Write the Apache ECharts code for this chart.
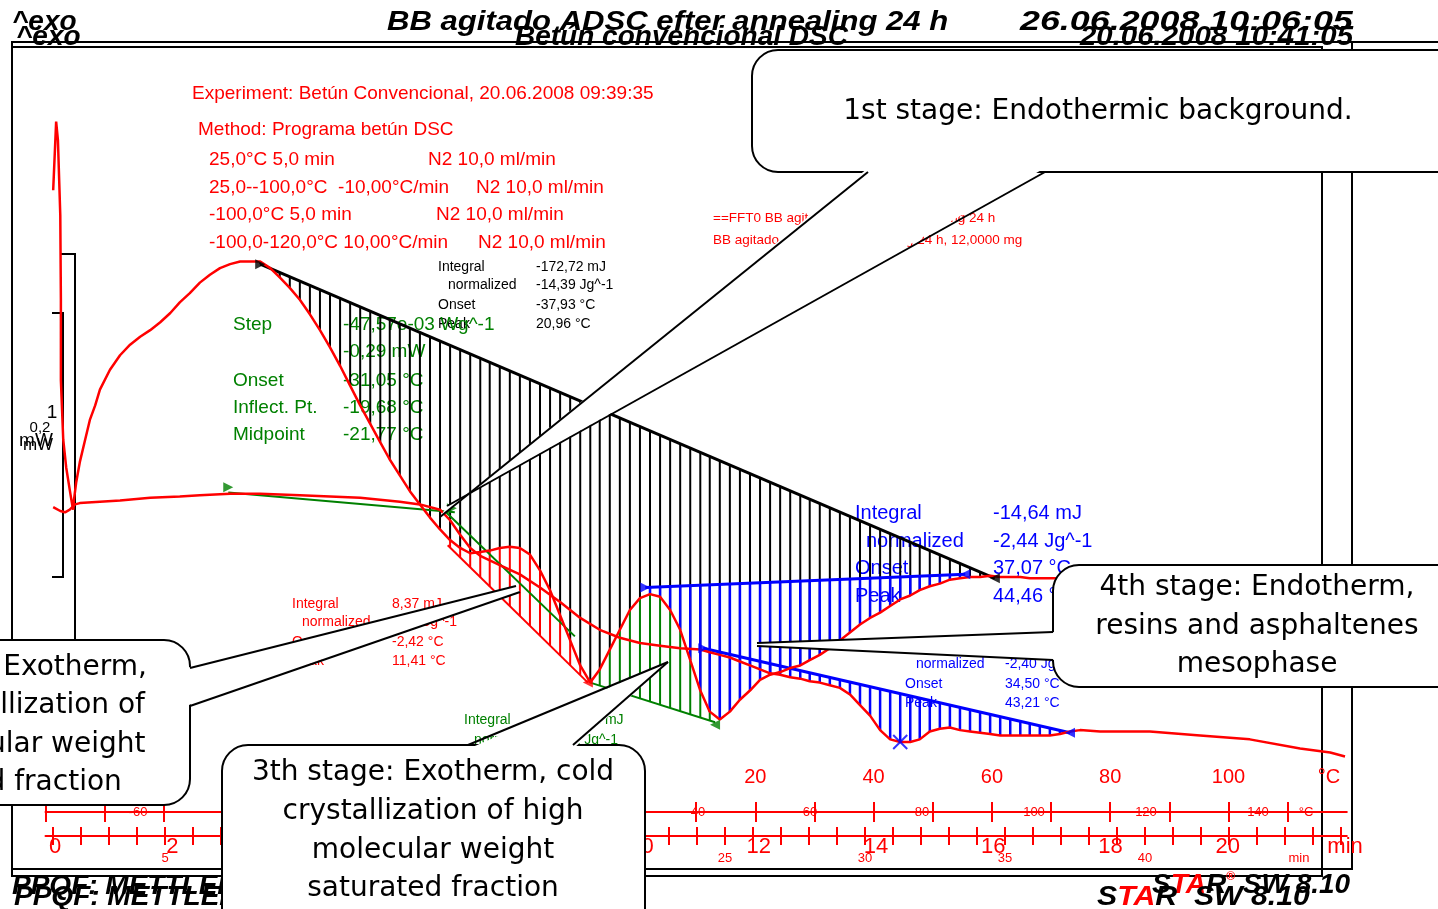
<!DOCTYPE html>
<html><head><meta charset="utf-8">
<script src="https://cdn.jsdelivr.net/npm/echarts@6/dist/echarts.min.js"></script>
<style>html,body{margin:0;padding:0;background:#fff}#chart{width:1438px;height:909px}</style>
</head><body><div id="chart"></div>
<script>
// DSC thermograms, temperature in °C against heat flow in µW (exo up)
const curveConvencional = [
  [-98.7,293],[-98.2,345],[-97.9,331],[-97.5,274],[-97.4,210],[-97.4,149],[-97.0,104],[-96.5,83],[-95.9,66],[-95.5,55],[-95.3,51],
  [-95.2,58],[-94.8,72],[-94.2,87],[-93.3,104],[-92.5,119],[-91.6,130],[-90.8,142],[-89.1,157],[-87.4,168],[-85.7,176],[-84.0,182],
  [-82.3,187],[-80.6,193],[-78.9,200],[-77.3,208],[-75.6,215],[-73.9,223],[-72.2,229],[-70.5,234],[-68.8,237],[-67.1,239],[-65.4,239],
  [-63.7,239],[-62.0,234],[-60.4,227],[-58.7,219],[-57.0,210],[-55.3,199],[-53.6,187],[-51.9,174],[-50.2,160],[-48.5,145],[-46.8,130],
  [-45.1,116],[-43.4,102],[-41.8,89],[-40.1,77],[-38.4,65],[-36.7,55],[-35.0,45],[-33.3,36],[-31.6,28],[-29.9,22],[-28.2,18],[-26.5,19],
  [-24.9,20],[-23.2,22],[-21.5,23],[-19.8,22],[-18.1,17],[-16.4,5],[-14.7,-10],[-13.0,-29],[-11.3,-48],[-9.6,-67],[-7.9,-80],[-6.3,-70],
  [-4.6,-55],[-2.9,-40],[-1.2,-25],[0.5,-16],[2.2,-13],[3.9,-15],[5.6,-25],[7.3,-40],[9.0,-63],[10.7,-86],[12.3,-102],[14.0,-108],
  [15.7,-102],[17.4,-93],[19.1,-86],[20.8,-78],[22.5,-74],[24.2,-72],[25.9,-69],[27.6,-67],[29.2,-63],[30.9,-59],[32.6,-54],[34.3,-48],
  [36.0,-42],[37.7,-36],[39.4,-31],[41.1,-27],[42.8,-22],[44.5,-17],[46.2,-14],[47.8,-10],[49.5,-7],[51.2,-5],[52.9,-2],[54.6,-1],
  [56.3,0],[58.0,0],[59.7,1],[61.4,0],[63.1,0],[64.8,0],[66.4,-1],[68.1,-1],[69.8,-1],[75.0,-1]
];
const curveAgitado = [
  [-98.7,53],[-97.5,50],[-96.7,49],[-95.9,51],[-95.0,55],[-94.2,56],[-90.8,57],[-87.4,58],[-82.3,60],[-77.3,61],[-73.9,62],[-68.8,63],
  [-63.7,63],[-57.0,62],[-51.9,61],[-46.8,60],[-40.1,57],[-36.7,55],[-33.3,51],[-31.6,43],[-29.9,32],[-28.2,22],[-26.5,16],[-23.2,9],
  [-19.8,2],[-16.4,-8],[-13.0,-19],[-9.6,-31],[-6.3,-40],[-2.9,-46],[0.5,-50],[3.9,-52],[7.3,-54],[10.7,-55],[12.3,-57],[14.0,-59],
  [15.7,-61],[17.4,-64],[19.1,-67],[20.8,-70],[22.5,-73],[24.2,-74],[25.9,-76],[27.6,-77],[29.2,-79],[30.9,-80],[32.6,-82],[34.3,-84],
  [36.0,-89],[37.7,-97],[39.4,-105],[41.1,-116],[42.8,-123],[44.5,-125],[46.2,-125],[47.8,-123],[49.5,-117],[51.2,-115],[52.9,-114],
  [54.6,-116],[56.3,-117],[58.0,-118],[59.7,-119],[61.4,-120],[63.1,-120],[64.8,-120],[66.4,-120],[68.1,-120],[69.8,-120],[71.5,-119],
  [73.2,-117],[74.9,-116],[78.3,-117],[86.7,-117],[95.2,-120],[103.6,-123],[112.1,-130],[117.2,-133],[119.7,-136]
];
// integration baselines: [[T, µW], [T, µW]]
const baseBackground = [[-63.7,237],[60.5,-1]];
const baseColdCrystLow = [[-32.0,24],[-8.3,-80]];
const baseColdCrystHigh = [[-7.9,-80],[13.2,-110]];
const baseMesophase = [[1.4,-8],[55.5,2]];
const baseAgitadoMelt = [[11.2,-54],[73.2,-118]];
// glass transition construction lines
const glassBefore = [[-69.1,64],[-30.8,49]];
const glassTangent = [[-32.5,50],[-10.5,-45]];
// evaluation limit markers
const limitMarks = [
  {value:[-63.7,237], c:'#000', r:-90}, {value:[60.5,-1], c:'#000', r:90},
  {value:[-69.1,68], c:'#008000', r:-90}, {value:[-31.3,52], c:'#008000', r:-90}, {value:[13.2,-112], c:'#008000', r:90},
  {value:[-8.3,-80], c:'#ff0000', r:90},
  {value:[1.4,-8], c:'#0000ff', r:-90}, {value:[55.5,2], c:'#0000ff', r:90},
  {value:[11.2,-54], c:'#0000ff', r:-90}, {value:[73.2,-118], c:'#0000ff', r:90}
];
const peakCross = [[44.5,-125]];

// axis tick and label values
const tempTicks = [-100,-90,-80,-70,-60,-50,-40,-30,-20,-10,0,10,20,30,40,50,60,70,80,90,100,110];
const tempLabels = [-100,-80,-60,-40,-20,0,20,40,60,80,100,117];
const tempLabelsB = [-60,-40,-20,0,20,40,60,80,100,120,140,148.6];
const timeLabels = [0,2,4,6,8,10,12,14,16,18,20,22];
const timeTicksB = [1,2,3,4,5,6,7,8,9,10,11,12,13,14,15,16,17,18,19,20,21,22,23,24,25,26,27,28,29,30,31,32,33,34,35,36,37,38,39,40,41,42,43,44,45,46,47];
const timeLabelsB = [5,10,15,20,25,30,35,40,45.5];

const RED = '#ff0000', GREEN = '#008000', BLUE = '#0000ff';
const ARIAL = '"Liberation Sans", Arial, sans-serif';
const VERD = '"DejaVu Sans", Verdana, sans-serif';

function within(curve, base) {
  return curve.filter(p => p[0] >= base[0][0] && p[0] <= base[1][0]);
}
function hatch(curve, base, color, width) {
  return {
    type: 'custom', z: 2, silent: true,
    data: within(curve, base),
    renderItem: function (params, api) {
      const t = api.value(0), v = api.value(1);
      const b = base[0][1] + (base[1][1] - base[0][1]) * (t - base[0][0]) / (base[1][0] - base[0][0]);
      const a = api.coord([t, v]), c = api.coord([t, b]);
      return { type: 'line', shape: { x1: a[0], y1: a[1], x2: c[0], y2: c[1] }, style: { stroke: color, lineWidth: width } };
    }
  };
}
function straight(pts, color, width) {
  return { type: 'line', z: 3, data: pts, showSymbol: false, silent: true, lineStyle: { color: color, width: width } };
}

// ---------- page decoration: frames, headers, annotations ----------
const G = [];
function txt(x, y, s, o) {
  o = o || {};
  G.push({
    type: 'text', x: x, y: y, z: o.z == null ? 1 : o.z, scaleX: o.sx || 1,
    style: {
      text: s, fill: o.c || '#000', fontSize: o.fs || 14, fontFamily: o.ff || ARIAL,
      fontWeight: o.w || 'normal', fontStyle: o.st || 'normal',
      textAlign: o.a || 'left', textVerticalAlign: 'middle', lineHeight: o.lh
    }
  });
}
function poly(points, o) {
  o = o || {};
  G.push({ type: 'polyline', z: o.z == null ? 1 : o.z, shape: { points: points },
    style: { stroke: o.c || '#000', lineWidth: o.lw || 2, fill: null } });
}
function callout(box, wedge, tips, text, tx, ty, lh, align) {
  G.push({ type: 'rect', z: 100, shape: { x: box[0], y: box[1], width: box[2], height: box[3], r: 26 },
    style: { fill: '#fff', stroke: '#000', lineWidth: 2 } });
  G.push({ type: 'polygon', z: 101, shape: { points: [wedge[0], wedge[1], tips[1], tips[0]] },
    style: { fill: '#fff', stroke: null } });
  G.push({ type: 'line', z: 102, shape: { x1: wedge[2][0], y1: wedge[2][1], x2: tips[0][0], y2: tips[0][1] }, style: { stroke: '#000', lineWidth: 2 } });
  G.push({ type: 'line', z: 102, shape: { x1: wedge[3][0], y1: wedge[3][1], x2: tips[1][0], y2: tips[1][1] }, style: { stroke: '#000', lineWidth: 2 } });
  G.push({ type: 'text', z: 103, x: tx, y: ty,
    style: { text: text, fill: '#000', fontSize: 28, fontFamily: VERD, textAlign: align || 'center', textVerticalAlign: 'middle', lineHeight: lh } });
}

// frames
G.push({ type: 'line', z: 0, shape: { x1: 12, y1: 42, x2: 1438, y2: 42 }, style: { stroke: '#000', lineWidth: 2 } });
G.push({ type: 'rect', z: 0, shape: { x: 12, y: 42, width: 1340, height: 827 }, style: { fill: null, stroke: '#000', lineWidth: 2 } });
G.push({ type: 'rect', z: 0, shape: { x: 12, y: 47, width: 1310, height: 829 }, style: { fill: null, stroke: '#000', lineWidth: 2 } });

// headers
const HB = { fs: 28, w: 'bold', st: 'italic' };
txt(12, 22, '^exo', HB);
txt(16, 37, '^exo', HB);
txt(387, 22, 'BB agitado ADSC efter annealing 24 h', Object.assign({ sx: 1.11 }, HB));
txt(515, 37, 'Betún convencional DSC', HB);
txt(1020, 22, '26.06.2008 10:06:05', Object.assign({ sx: 1.28 }, HB));
txt(1080, 37, '20.06.2008 10:41:05', Object.assign({ sx: 1.05 }, HB));
// footers
txt(12, 886, 'PPQF: METTLER TOLEDO', HB);
txt(14, 897, 'PPQF: METTLER TOLEDO', HB);
G.push({ type: 'text', z: 1, x: 1152, y: 885, style: {
  text: '{b|S}{r|TA}{b|R}{s|®}{b| SW 8.10}', textVerticalAlign: 'middle',
  rich: { b: { fontSize: 28, fontWeight: 'bold', fontStyle: 'italic', fontFamily: ARIAL, fill: '#000', color: '#000' },
          r: { fontSize: 28, fontWeight: 'bold', fontStyle: 'italic', fontFamily: ARIAL, fill: RED, color: RED },
          s: { fontSize: 12, fontWeight: 'bold', fontFamily: ARIAL, fill: RED, color: RED, verticalAlign: 'top' } } } });
G.push({ type: 'text', z: 1, x: 1097, y: 897, scaleX: 1.08, style: {
  text: '{b|S}{r|TA}{b|R  SW 8.10}', textVerticalAlign: 'middle',
  rich: { b: { fontSize: 28, fontWeight: 'bold', fontStyle: 'italic', fontFamily: ARIAL, fill: '#000', color: '#000' },
          r: { fontSize: 28, fontWeight: 'bold', fontStyle: 'italic', fontFamily: ARIAL, fill: RED, color: RED } } } });

// heat-flow scale bars
poly([[61, 254], [75, 254], [75, 700]]);
poly([[52, 313], [63, 313], [63, 577], [52, 577]]);
txt(52, 413, '1', { fs: 19, a: 'center' });
txt(40, 428, '0,2', { fs: 15, a: 'center' });
txt(36, 441, 'mW', { fs: 19, a: 'center' });
txt(38, 445, 'mW', { fs: 17, a: 'center' });

// experiment and method
const R19 = { fs: 19, c: RED };
txt(192, 94, 'Experiment: Betún Convencional, 20.06.2008 09:39:35', R19);
txt(198, 130, 'Method: Programa betún DSC', R19);
txt(209, 160, '25,0°C 5,0 min', R19);            txt(428, 160, 'N2 10,0 ml/min', R19);
txt(209, 188, '25,0--100,0°C  -10,00°C/min', R19); txt(476, 188, 'N2 10,0 ml/min', R19);
txt(209, 215, '-100,0°C 5,0 min', R19);          txt(436, 215, 'N2 10,0 ml/min', R19);
txt(209, 243, '-100,0-120,0°C 10,00°C/min', R19); txt(478, 243, 'N2 10,0 ml/min', R19);
txt(713, 218, '==FFT0 BB agitado ADSC efter annealing 24 h', { fs: 13.5, c: RED });
txt(713, 240, 'BB agitado ADSC efter annealing 24 h, 12,0000 mg', { fs: 13.5, c: RED });

// background integration results
const K14 = { fs: 14 };
txt(438, 267, 'Integral', K14);   txt(536, 267, '-172,72 mJ', K14);
txt(448, 285, 'normalized', K14); txt(536, 285, '-14,39 Jg^-1', K14);
txt(438, 305, 'Onset', K14);      txt(536, 305, '-37,93 °C', K14);
txt(438, 324, 'Peak', K14);       txt(536, 324, '20,96 °C', K14);

// glass transition results
const G19 = { fs: 19, c: GREEN };
txt(233, 325, 'Step', G19);         txt(343, 325, '-47,57e-03 Wg^-1', G19);
txt(343, 352, '-0,29 mW', G19);
txt(233, 381, 'Onset', G19);        txt(343, 381, '-31,05 °C', G19);
txt(233, 408, 'Inflect. Pt.', G19); txt(343, 408, '-19,68 °C', G19);
txt(233, 435, 'Midpoint', G19);     txt(343, 435, '-21,77 °C', G19);

// low temperature exotherm results
const R14 = { fs: 14, c: RED };
txt(292, 604, 'Integral', R14);   txt(392, 604, '8,37 mJ', R14);
txt(302, 622, 'normalized', R14); txt(392, 622, '0,70 Jg^-1', R14);
txt(292, 642, 'Onset', R14);      txt(392, 642, '-2,42 °C', R14);
txt(292, 661, 'Peak', R14);       txt(392, 661, '11,41 °C', R14);

// cold crystallisation results
const G14 = { fs: 14, c: GREEN };
txt(464, 720, 'Integral', G14);   txt(566, 720, '12,12 mJ', G14);
txt(474, 740, 'normalized', G14); txt(553, 740, '1,01 Jg^-1', G14);

// mesophase endotherm results
const B20 = { fs: 20, c: BLUE };
txt(855, 513, 'Integral', B20);   txt(993, 513, '-14,64 mJ', B20);
txt(866, 541, 'normalized', B20); txt(993, 541, '-2,44 Jg^-1', B20);
txt(855, 568, 'Onset', B20);      txt(993, 568, '37,07 °C', B20);
txt(855, 596, 'Peak', B20);       txt(993, 596, '44,46 °C', B20);
const B14 = { fs: 14, c: BLUE };
txt(905, 645, 'Integral', B14);   txt(1005, 645, '-28,86 mJ', B14);
txt(916, 664, 'normalized', B14); txt(1005, 664, '-2,40 Jg^-1', B14);
txt(905, 684, 'Onset', B14);      txt(1005, 684, '34,50 °C', B14);
txt(905, 703, 'Peak', B14);       txt(1005, 703, '43,21 °C', B14);

// stage call-outs
callout([752, 50, 720, 122], [[868, 168], [1045, 168], [868, 172], [1045, 172]], [[440, 517], [447, 506]],
  '1st stage: Endothermic background.', 1098, 112, 38);
callout([-198, 640, 388, 165], [[186, 668], [186, 706], [190, 668], [190, 706]], [[516, 586], [520, 592]],
  '2nd stage: Exotherm,\ncold crystallization of\nlow molecular weight\nsaturated fraction', -4, 725, 38.5);
callout([222, 745, 423, 190], [[468, 749], [573, 749], [468, 745], [573, 745]], [[668, 662], [668, 662]],
  '3th stage: Exotherm, cold\ncrystallization of high\nmolecular weight\nsaturated fraction', 433, 831, 38.7);
callout([1053, 565, 420, 122], [[1057, 632], [1057, 660], [1053, 632], [1053, 660]], [[757, 643], [757, 646]],
  '4th stage: Endotherm,\nresins and asphaltenes\nmesophase', 1257, 626.5, 38.5);

// ---------- axes ----------
const lab = { color: RED, fontFamily: ARIAL };
const xAxes = [
  { // main temperature scale (carries the curves)
    type: 'value', min: -100, max: 120, position: 'bottom', offset: 50.2,
    axisLine: { show: true, onZero: false, lineStyle: { color: RED, width: 2 } },
    axisTick: { show: true, inside: false, length: 10, customValues: tempTicks, lineStyle: { color: RED, width: 2 } },
    axisLabel: Object.assign({ inside: true, margin: 25, fontSize: 20, customValues: tempLabels,
      formatter: v => (v === 117 ? '°C' : String(v)) }, lab),
    splitLine: { show: false }
  },
  { type: 'value', min: -100, max: 120, position: 'bottom', offset: 50.2,
    axisLine: { show: false, onZero: false },
    axisTick: { show: true, inside: true, length: 10, customValues: tempTicks, lineStyle: { color: RED, width: 2 } },
    axisLabel: { show: false }, splitLine: { show: false } },
  { // temperature scale of the annealed run
    type: 'value', min: -76.52, max: 155.86, position: 'bottom', offset: 50.2,
    axisLine: { show: false, onZero: false }, axisTick: { show: false },
    axisLabel: Object.assign({ margin: -6.5, fontSize: 13, customValues: tempLabelsB,
      formatter: v => (v === 148.6 ? '°C' : String(v)) }, lab),
    splitLine: { show: false } },
  { // time scale
    type: 'value', min: -0.162, max: 22.03, position: 'bottom', offset: 74.2,
    axisLine: { show: true, onZero: false, lineStyle: { color: RED, width: 2 } }, axisTick: { show: false },
    axisLabel: Object.assign({ margin: 0, fontSize: 22, customValues: timeLabels,
      formatter: v => (v === 22 ? 'min' : String(v)) }, lab),
    splitLine: { show: false } },
  { // time scale of the annealed run
    type: 'value', min: 0.732, max: 47.21, position: 'bottom', offset: 74.2,
    axisLine: { show: false, onZero: false },
    axisTick: { show: true, inside: false, length: 9, customValues: timeTicksB, lineStyle: { color: RED, width: 2 } },
    axisLabel: Object.assign({ margin: 16, fontSize: 13, customValues: timeLabelsB,
      formatter: v => (v === 45.5 ? 'min' : String(v)) }, lab),
    splitLine: { show: false } },
  { type: 'value', min: 0.732, max: 47.21, position: 'bottom', offset: 74.2,
    axisLine: { show: false, onZero: false },
    axisTick: { show: true, inside: true, length: 9, customValues: timeTicksB, lineStyle: { color: RED, width: 2 } },
    axisLabel: { show: false }, splitLine: { show: false } }
];

const chart = echarts.init(document.getElementById('chart'), null, { renderer: 'canvas' });
chart.setOption({
  animation: false,
  backgroundColor: '#fff',
  grid: { left: 45.5, right: 91.2, top: 49, bottom: 147.2 },
  xAxis: xAxes,
  yAxis: { type: 'value', min: -140, max: 400, show: false, axisLine: { onZero: false } },
  graphic: { elements: G },
  series: [
    hatch(curveConvencional, baseBackground, '#000', 2),
    hatch(curveConvencional, baseColdCrystLow, RED, 2),
    hatch(curveConvencional, baseColdCrystHigh, GREEN, 2),
    hatch(curveConvencional, baseMesophase, BLUE, 2.5),
    hatch(curveAgitado, baseAgitadoMelt, BLUE, 2.5),
    straight(baseBackground, '#000', 3),
    straight(baseColdCrystLow, RED, 2),
    straight(baseColdCrystHigh, GREEN, 2),
    straight(baseMesophase, BLUE, 3),
    straight(baseAgitadoMelt, BLUE, 3),
    straight(glassBefore, GREEN, 2),
    straight(glassTangent, GREEN, 2),
    { type: 'line', z: 4, data: curveConvencional, showSymbol: false, silent: true, lineStyle: { color: RED, width: 2.5 } },
    { type: 'line', z: 4, data: curveAgitado, showSymbol: false, silent: true, lineStyle: { color: RED, width: 2.5 } },
    { type: 'scatter', z: 5, silent: true, symbol: 'triangle', symbolSize: 10,
      data: limitMarks.map(m => ({ value: m.value, symbolRotate: m.r, itemStyle: { color: m.c } })) },
    { type: 'scatter', z: 5, silent: true, symbol: 'path://M0,0L10,10M10,0L0,10', symbolSize: 14,
      itemStyle: { color: 'none', borderColor: BLUE, borderWidth: 2 }, data: peakCross }
  ]
});
</script></body></html>
